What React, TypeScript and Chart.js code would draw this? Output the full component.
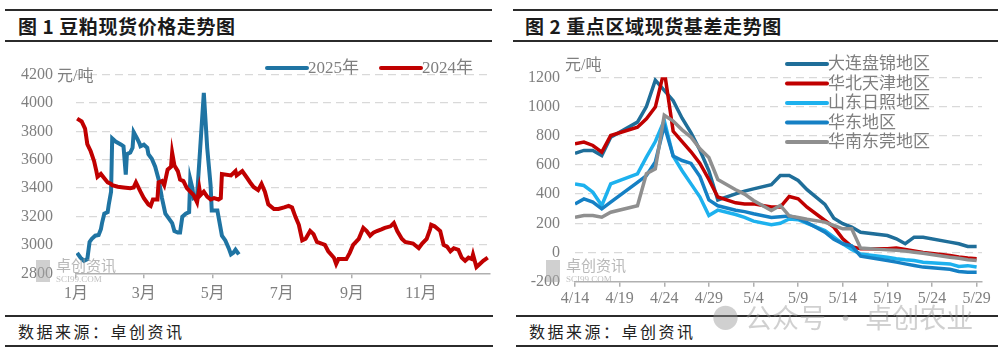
import React, { useEffect, useRef } from 'react';
import { Chart, registerables } from 'chart.js';
Chart.register(...registerables);

// ---------- Chart 1: soybean meal spot price ----------
const monthTickDays = [0, 60, 121, 182, 244, 305];
const monthLabels = ['1月', '3月', '5月', '7月', '9月', '11月'];

const days2024 = [1, 5, 8, 10, 13, 16, 18, 19, 22, 25, 28, 31, 32, 37, 42, 48, 51, 53, 57, 60, 64, 66, 68, 72, 73, 76, 78, 81, 84, 85, 87, 90, 92, 95, 98, 101, 104, 107, 109, 110, 113, 116, 119, 122, 126, 128, 129, 137, 141, 142, 147, 151, 154, 157, 161, 164, 167, 170, 175, 179, 184, 188, 191, 194, 197, 200, 203, 207, 210, 213, 217, 220, 223, 228, 230, 232, 239, 242, 245, 250, 254, 257, 260, 263, 266, 270, 273, 278, 281, 284, 288, 291, 298, 303, 306, 310, 313, 314, 317, 322, 325, 328, 331, 334, 338, 341, 344, 347, 350, 351, 354, 357, 360, 364];
const price2024 = [3890, 3870, 3820, 3710, 3660, 3590, 3520, 3480, 3500, 3470, 3440, 3430, 3420, 3410, 3405, 3400, 3405, 3440, 3375, 3330, 3285, 3275, 3320, 3320, 3440, 3450, 3420, 3530, 3550, 3650, 3560, 3520, 3460, 3450, 3400, 3375, 3350, 3300, 3400, 3350, 3375, 3340, 3320, 3330, 3320, 3330, 3500, 3490, 3520, 3490, 3520, 3475, 3440, 3408, 3386, 3430, 3375, 3286, 3253, 3253, 3264, 3275, 3264, 3198, 3142, 3032, 3043, 3098, 3076, 3021, 3010, 3000, 2955, 2910, 2866, 2900, 2900, 2944, 3000, 3043, 3120, 3098, 3065, 3087, 3098, 3110, 3120, 3131, 3154, 3098, 3043, 3021, 3010, 2977, 3010, 3043, 3110, 3142, 3131, 3098, 3000, 2988, 2955, 2977, 2966, 2910, 2888, 2910, 2900, 2932, 2844, 2866, 2888, 2910];

const days2025 = [1, 4, 7, 10, 12, 14, 17, 20, 22, 23, 25, 28, 29, 31, 32, 35, 40, 42, 44, 45, 48, 50, 51, 54, 56, 57, 60, 63, 64, 67, 70, 73, 76, 79, 82, 85, 87, 90, 92, 94, 97, 100, 101, 103, 104, 107, 113, 116, 119, 120, 125, 126, 129, 132, 135, 137, 139, 141, 144];
const price2025 = [2944, 2910, 2888, 2900, 3021, 3043, 3065, 3070, 3110, 3154, 3220, 3231, 3286, 3375, 3750, 3728, 3706, 3695, 3496, 3640, 3651, 3684, 3794, 3750, 3717, 3695, 3706, 3684, 3640, 3607, 3551, 3463, 3330, 3220, 3187, 3154, 3098, 3087, 3087, 3198, 3220, 3231, 3463, 3397, 3330, 3341, 4071, 3684, 3419, 3242, 3242, 3198, 3065, 3032, 2977, 2933, 2944, 2966, 2933];

const priceMin = 2800;
const priceMax = 4200;
const priceStep = 200;

// ---------- Chart 2: regional spot basis ----------
const basisTickDays = [0, 5, 10, 15, 20, 25, 30, 35, 40, 45];
const basisTickLabels = ['4/14', '4/19', '4/24', '4/29', '5/4', '5/9', '5/14', '5/19', '5/24', '5/29'];
const basisDays = [0, 1, 2, 3, 4, 7, 8, 9, 10, 11, 12, 13, 14, 15, 16, 18, 19, 20, 22, 23, 24, 25, 26, 28, 29, 30, 31, 32, 35, 36, 37, 38, 39, 42, 43, 44, 45];
const dalian = [680, 699, 699, 664, 790, 893, 1000, 1180, 1110, 1040, 920, 820, 700, 560, 360, 402, 420, 436, 465, 527, 527, 493, 430, 330, 235, 197, 174, 139, 116, 94, 60, 105, 105, 71, 60, 41, 41];
const tianjin = [744, 756, 733, 687, 801, 858, 916, 996, 1247, 830, 760, 690, 610, 500, 380, 340, 333, 333, 311, 311, 384, 368, 310, 219, 174, 94, 40, 25, 25, 30, 20, 10, 0, -20, -30, -38, -43];
const rizhao = [470, 459, 413, 322, 470, 539, 653, 760, 904, 660, 560, 470, 380, 253, 290, 260, 240, 215, 190, 200, 230, 225, 200, 151, 105, 60, 20, -10, -32, -43, -50, -55, -66, -78, -95, -90, -100];
const huadong = [333, 367, 345, 299, 345, 480, 527, 620, 870, 660, 630, 610, 520, 360, 320, 290, 280, 265, 240, 245, 250, 235, 205, 139, 90, 60, 45, -25, -55, -66, -78, -89, -100, -115, -130, -135, -135];
const dongguan = [242, 253, 253, 242, 276, 320, 540, 573, 940, 900, 840, 790, 710, 650, 500, 430, 400, 356, 288, 322, 250, 240, 228, 208, 185, 162, 162, 30, 18, 15, 10, 2, -5, -32, -40, -50, -55];

const basisMin = -200;
const basisMax = 1200;
const basisStep = 200;

const TICK_FONT = { family: "'Liberation Serif', 'Noto Sans CJK SC', serif", size: 16 };
const TEXT_GRAY = '#7f7f7f';
const GRID_GRAY = '#d9d9d9';
const AXIS_GRAY = '#b0b0b0';

type LegendItem = { text: string; color: string; x: number; y: number };

function makeOverlayPlugin(id: string, items: LegendItem[], unit: { x: number; y: number }) {
  return {
    id,
    afterDraw(chart: any) {
      const ctx = chart.ctx;
      ctx.save();
      ctx.font = "16px 'Liberation Serif', 'Noto Sans CJK SC', serif";
      ctx.fillStyle = TEXT_GRAY;
      ctx.textBaseline = 'middle';
      ctx.textAlign = 'left';
      ctx.fillText('元/吨', unit.x, unit.y);
      ctx.font = "17px 'Liberation Serif', 'Noto Sans CJK SC', serif";
      for (const it of items) {
        ctx.strokeStyle = it.color;
        ctx.lineWidth = 4;
        ctx.lineCap = 'round';
        ctx.beginPath();
        ctx.moveTo(it.x, it.y);
        ctx.lineTo(it.x + 40, it.y);
        ctx.stroke();
        ctx.fillStyle = TEXT_GRAY;
        ctx.fillText(it.text, it.x + 41, it.y + 1);
      }
      ctx.restore();
    },
  };
}

function pts(xs: number[], ys: number[]) {
  return xs.map((x, i) => ({ x, y: ys[i] }));
}

const plainNumber = (v: any) => String(v);

function PriceChart() {
  const ref = useRef<HTMLCanvasElement>(null);
  useEffect(() => {
    const legend = makeOverlayPlugin(
      'legend1',
      [
        { text: '2025年', color: '#1F74A3', x: 267, y: 26 },
        { text: '2024年', color: '#C00000', x: 381, y: 26 },
      ],
      { x: 57, y: 35 }
    );
    const chart = new Chart(ref.current!, {
      type: 'line',
      data: {
        datasets: [
          { label: '2025年', data: pts(days2025, price2025), borderColor: '#1F74A3', borderWidth: 4, pointRadius: 0, tension: 0, order: 2 },
          { label: '2024年', data: pts(days2024, price2024), borderColor: '#C00000', borderWidth: 4, pointRadius: 0, tension: 0, order: 1 },
        ],
      },
      options: {
        animation: false,
        responsive: false,
        maintainAspectRatio: false,
        layout: { padding: { top: 19.7, right: 10, left: 0, bottom: 0 } },
        plugins: { legend: { display: false }, tooltip: { enabled: false } },
        scales: {
          x: {
            type: 'linear',
            min: 0,
            max: 366,
            afterBuildTicks: (s: any) => {
              s.ticks = monthTickDays.map((v) => ({ value: v }));
            },
            afterFit: (s: any) => {
              s.height = 38.7;
            },
            ticks: {
              autoSkip: false,
              maxRotation: 0,
              padding: 6,
              font: TICK_FONT,
              color: TEXT_GRAY,
              callback: (v: any) => {
                const i = monthTickDays.indexOf(Number(v));
                return i >= 0 ? monthLabels[i] : '';
              },
            },
            grid: { drawOnChartArea: false, drawTicks: true, tickLength: 5, color: AXIS_GRAY, lineWidth: 1.5 },
            border: { display: true, color: AXIS_GRAY, width: 1.5 },
          },
          y: {
            min: priceMin,
            max: priceMax,
            afterFit: (s: any) => {
              s.width = 76;
            },
            ticks: { stepSize: priceStep, padding: 23, font: TICK_FONT, color: TEXT_GRAY, callback: plainNumber },
            grid: {
              drawTicks: false,
              lineWidth: 1.3,
              color: (c: any) => (c.tick && c.tick.value === priceMin ? 'rgba(0,0,0,0)' : GRID_GRAY),
            },
            border: { display: false, dash: [8, 5] },
          },
        },
      } as any,
      plugins: [legend],
    });
    return () => chart.destroy();
  }, []);
  return <canvas ref={ref} width={500} height={270} style={{ position: 'absolute', left: 0, top: 42, width: 500, height: 270 }} />;
}

function BasisChart() {
  const ref = useRef<HTMLCanvasElement>(null);
  useEffect(() => {
    const names = ['大连盘锦地区', '华北天津地区', '山东日照地区', '华东地区', '华南东莞地区'];
    const colors = ['#1F6E99', '#C00000', '#1DB1EE', '#1580C4', '#8F8F8F'];
    const series = [dalian, tianjin, rizhao, huadong, dongguan];
    const legend = makeOverlayPlugin(
      'legend2',
      names.map((n, i) => ({ text: n, color: colors[i], x: 287, y: 22 + i * 19.5 })),
      { x: 65, y: 24 }
    );
    const chart = new Chart(ref.current!, {
      type: 'line',
      data: {
        datasets: series.map((s, i) => ({
          label: names[i],
          data: pts(basisDays, s),
          borderColor: colors[i],
          borderWidth: 3.5,
          pointRadius: 0,
          tension: 0,
          order: 5 - i,
        })),
      },
      options: {
        animation: false,
        responsive: false,
        maintainAspectRatio: false,
        layout: { padding: { top: 35.3, right: 24, left: 0, bottom: 0 } },
        plugins: { legend: { display: false }, tooltip: { enabled: false } },
        scales: {
          x: {
            type: 'linear',
            min: 0,
            max: 45.6,
            afterBuildTicks: (s: any) => {
              s.ticks = basisTickDays.map((v) => ({ value: v }));
            },
            afterFit: (s: any) => {
              s.height = 30.3;
            },
            ticks: {
              autoSkip: false,
              maxRotation: 0,
              padding: 2,
              font: TICK_FONT,
              color: TEXT_GRAY,
              callback: (v: any) => {
                const i = basisTickDays.indexOf(Number(v));
                return i >= 0 ? basisTickLabels[i] : '';
              },
            },
            grid: { drawOnChartArea: false, drawTicks: true, tickLength: 5, color: AXIS_GRAY, lineWidth: 1.5 },
            border: { display: true, color: AXIS_GRAY, width: 1.5 },
          },
          y: {
            min: basisMin,
            max: basisMax,
            afterFit: (s: any) => {
              s.width = 75;
            },
            ticks: { stepSize: basisStep, padding: 15, font: TICK_FONT, color: TEXT_GRAY, callback: plainNumber },
            grid: {
              drawTicks: false,
              lineWidth: 1.3,
              color: (c: any) => (c.tick && c.tick.value === basisMin ? 'rgba(0,0,0,0)' : GRID_GRAY),
            },
            border: { display: false, dash: [8, 5] },
          },
        },
      } as any,
      plugins: [legend],
    });
    return () => chart.destroy();
  }, []);
  return <canvas ref={ref} width={506} height={270} style={{ position: 'absolute', left: 500, top: 42, width: 506, height: 270 }} />;
}

const rule = (left: number, top: number, width: number): React.CSSProperties => ({
  position: 'absolute',
  left,
  top,
  width,
  height: 2,
  background: '#2b2b2b',
});

const titleStyle = (left: number): React.CSSProperties => ({
  position: 'absolute',
  left,
  top: 14,
  fontFamily: "'Noto Sans CJK SC', sans-serif",
  fontWeight: 700,
  fontSize: 19,
  lineHeight: '24px',
  color: '#1a1a1a',
  whiteSpace: 'pre',
  letterSpacing: 0.6,
});

const footStyle = (left: number): React.CSSProperties => ({
  position: 'absolute',
  left,
  top: 320,
  fontFamily: "'Noto Sans CJK SC', sans-serif",
  fontSize: 16,
  lineHeight: '22px',
  color: '#222',
  letterSpacing: 2.5,
  whiteSpace: 'pre',
});

function Logo({ left }: { left: number }) {
  return (
    <div style={{ position: 'absolute', left, top: 256, width: 110, height: 30, pointerEvents: 'none' }}>
      <div style={{ position: 'absolute', left: 0, top: 4, width: 14, height: 22, background: 'rgba(170,170,170,0.55)' }} />
      <div style={{ position: 'absolute', left: 20, top: 0, fontFamily: "'Noto Sans CJK SC', sans-serif", fontSize: 15, lineHeight: '18px', color: 'rgba(160,160,160,0.75)', whiteSpace: 'pre' }}>
        卓创资讯
      </div>
      <div style={{ position: 'absolute', left: 20, top: 18, fontFamily: "'Liberation Serif', serif", fontSize: 9, lineHeight: '10px', color: 'rgba(170,170,170,0.75)', whiteSpace: 'pre' }}>
        SCI99.COM
      </div>
    </div>
  );
}

export default function App() {
  useEffect(() => {
    document.body.style.margin = '0';
  }, []);
  return (
    <div style={{ position: 'absolute', left: 0, top: 0, width: 1006, height: 358, background: '#fff', overflow: 'hidden' }}>
      <div style={rule(5, 9, 487)} />
      <div style={titleStyle(18)}>图 1 豆粕现货价格走势图</div>
      <div style={rule(5, 40, 487)} />
      <div style={rule(513, 9, 485)} />
      <div style={titleStyle(525)}>图 2 重点区域现货基差走势图</div>
      <div style={rule(513, 40, 485)} />

      <PriceChart />
      <BasisChart />
      <Logo left={36} />
      <Logo left={546} />

      <div style={rule(5, 315, 488)} />
      <div style={footStyle(18)}>数据来源：卓创资讯</div>
      <div style={rule(5, 345, 488)} />
      <div style={rule(516, 315, 482)} />
      <div style={footStyle(529)}>数据来源：卓创资讯</div>
      <div style={rule(516, 345, 482)} />

      <div
        style={{
          position: 'absolute',
          left: 712,
          top: 300,
          fontFamily: "'Noto Sans CJK SC', sans-serif",
          fontSize: 27,
          lineHeight: '34px',
          color: 'rgba(150,150,150,0.45)',
          whiteSpace: 'pre',
          pointerEvents: 'none',
        }}
      >
        ● 公众号 · 卓创农业
      </div>
    </div>
  );
}
